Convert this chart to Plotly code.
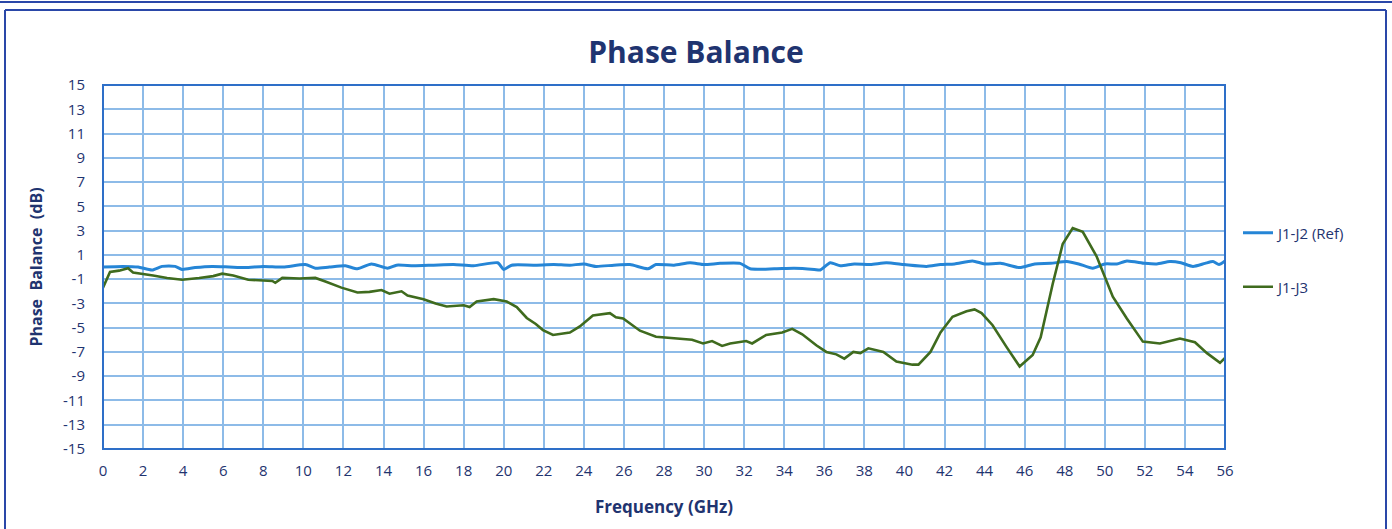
import plotly.graph_objects as go

# ---- data ----
freq_j3 = [0.0, 0.35, 0.8, 1.25, 1.5, 1.75, 2.5, 3.2, 3.95, 4.8, 5.5, 5.95, 6.5, 7.25, 8.0, 8.45, 8.6,
           8.95, 9.8, 10.6, 11.1, 11.9, 12.7, 13.3, 13.9, 14.3, 14.9, 15.2, 16.0, 16.6, 17.15, 18.0,
           18.3, 18.65, 19.5, 20.15, 20.65, 21.15, 21.6, 21.96, 22.46, 23.3, 23.8, 24.45, 25.3, 25.6,
           25.96, 26.8, 27.6, 28.3, 28.8, 29.4, 29.95, 30.4, 30.9, 31.3, 32.1, 32.4, 33.1, 33.9, 34.4,
           34.9, 35.6, 36.1, 36.6, 37.0, 37.45, 37.8, 38.2, 38.95, 39.6, 40.4, 40.7, 41.3, 41.8, 42.4,
           43.1, 43.5, 43.85, 44.4, 45.1, 45.75, 46.4, 46.8, 47.4, 47.9, 48.4, 48.9, 49.6, 50.4, 51.1,
           51.9, 52.75, 53.75, 54.5, 55.1, 55.75, 56.0]
j1_j3 = [-1.7, -0.4, -0.3, -0.1, -0.45, -0.5, -0.7, -0.9, -1.05, -0.9, -0.75, -0.55, -0.7, -1.05, -1.1,
         -1.15, -1.3, -0.9, -0.95, -0.9, -1.2, -1.7, -2.1, -2.05, -1.9, -2.2, -2.0, -2.35, -2.65, -3.0,
         -3.25, -3.15, -3.3, -2.85, -2.65, -2.85, -3.3, -4.2, -4.7, -5.2, -5.6, -5.4, -4.9, -4.0, -3.8,
         -4.15, -4.25, -5.25, -5.75, -5.85, -5.9, -6.0, -6.3, -6.1, -6.5, -6.3, -6.1, -6.3, -5.6, -5.4,
         -5.1, -5.55, -6.45, -7.0, -7.2, -7.55, -7.0, -7.1, -6.7, -7.0, -7.8, -8.05, -8.05, -7.0, -5.4,
         -4.1, -3.65, -3.5, -3.8, -4.8, -6.6, -8.2, -7.25, -5.8, -1.4, 1.9, 3.2, 2.9, 0.85, -2.45, -4.25,
         -6.15, -6.3, -5.9, -6.2, -7.1, -7.9, -7.5]

freq_j2 = [0, 1.0, 1.75, 2.45, 2.95, 3.6, 3.95, 4.6, 5.45, 6.3, 7.1, 8.0, 9.0, 10.1, 10.6, 11.3, 12.1,
           12.7, 13.4, 14.2, 14.65, 15.5, 16.5, 17.5, 18.5, 19.7, 20.0, 20.4, 21.5, 22.5, 23.3, 24.0,
           24.6, 25.5, 26.3, 27.2, 27.6, 28.5, 29.3, 30.0, 30.8, 31.8, 32.3, 33.5, 34.5, 35.5, 35.8,
           36.3, 36.8, 37.5, 38.3, 39.1, 40.0, 41.1, 41.8, 42.5, 43.4, 44.0, 44.8, 45.75, 46.5, 47.3,
           48.1, 48.7, 49.4, 50.0, 50.6, 51.1, 52.0, 52.6, 53.25, 53.8, 54.4, 55.0, 55.4, 55.7, 56.0]
j1_j2 = [0.0, 0.05, 0.0, -0.25, 0.05, 0.05, -0.2, -0.05, 0.05, 0.0, -0.05, 0.05, 0.0, 0.2, -0.1, 0.0,
         0.1, -0.15, 0.25, -0.1, 0.15, 0.1, 0.15, 0.2, 0.1, 0.35, -0.2, 0.15, 0.15, 0.2, 0.15, 0.25,
         0.05, 0.15, 0.2, -0.15, 0.2, 0.15, 0.35, 0.2, 0.3, 0.3, -0.15, -0.15, -0.1, -0.2, -0.25, 0.35,
         0.1, 0.25, 0.2, 0.35, 0.2, 0.05, 0.2, 0.25, 0.5, 0.25, 0.3, -0.05, 0.25, 0.3, 0.45, 0.25,
         -0.1, 0.25, 0.25, 0.5, 0.3, 0.25, 0.45, 0.35, 0.05, 0.3, 0.45, 0.2, 0.5]

y_ticks = list(range(-15, 16, 2))
x_ticks = list(range(0, 57, 2))

NAVY = "#1F3470"
BLUE = "#2585D6"
GREEN = "#3F6B1E"
GRID = "#8DBBE8"
FRAME = "#2A47A8"
FONT = "Open Sans"

fig = go.Figure()
fig.add_trace(go.Scatter(x=freq_j2, y=j1_j2, mode="lines", name="J1-J2 (Ref)", showlegend=True,
                         line=dict(color=BLUE, width=3, shape="spline", smoothing=0.6),
                         legend="legend"))
fig.add_trace(go.Scatter(x=freq_j3, y=j1_j3, mode="lines", name="J1-J3", showlegend=True,
                         line=dict(color=GREEN, width=2.6), legend="legend2"))

# plot area pixel geometry
L, R, T, B = 103, 1225, 85, 449
W, H = 1392, 529
def px(x):
    return (x - L) / (R - L)
def py(y):
    return (B - y) / (B - T)

shapes = [
    dict(type="line", xref="paper", yref="paper", x0=px(5), x1=px(5), y0=py(529), y1=py(10),
         line=dict(color=FRAME, width=2)),
    dict(type="line", xref="paper", yref="paper", x0=px(1386), x1=px(1386), y0=py(529), y1=py(10),
         line=dict(color=FRAME, width=2)),
    dict(type="line", xref="paper", yref="paper", x0=px(5), x1=px(1386), y0=py(10), y1=py(10),
         line=dict(color=FRAME, width=2)),
    dict(type="line", xref="paper", yref="paper", x0=px(0), x1=px(1392), y0=py(2), y1=py(2),
         line=dict(color=FRAME, width=2)),
    dict(type="rect", xref="paper", yref="paper", x0=0, x1=1, y0=0, y1=1,
         line=dict(color="#2E6FC8", width=2)),
]

legend_common = dict(font=dict(family=FONT, size=15, color=NAVY), bgcolor="rgba(0,0,0,0)",
                     xanchor="left", yanchor="middle", itemwidth=30, visible=True)

fig.update_layout(
    width=W, height=H,
    margin=dict(l=L, r=W - R, t=T, b=H - B, autoexpand=False),
    paper_bgcolor="white", plot_bgcolor="white",
    showlegend=True,
    title=dict(text="<b>Phase Balance</b>", x=px(696), xref="paper", xanchor="center",
               y=1 - 52 / H, yanchor="middle",
               font=dict(family=FONT, size=30, color=NAVY)),
    xaxis=dict(range=[0, 56], tickvals=x_ticks, ticktext=[str(v) for v in x_ticks],
               showgrid=True, gridcolor=GRID, gridwidth=1.5, zeroline=False, showline=False,
               ticks="outside", ticklen=8, tickcolor="rgba(0,0,0,0)", automargin=False,
               tickfont=dict(family=FONT, size=15, color=NAVY),
               title=dict(text="<b>Frequency (GHz)</b>", standoff=22,
                          font=dict(family=FONT, size=17, color=NAVY))),
    yaxis=dict(range=[-15, 15], tickvals=y_ticks, ticktext=[str(v) for v in y_ticks],
               showgrid=True, gridcolor=GRID, gridwidth=1.5, zeroline=False, showline=False,
               ticks="outside", ticklen=14, tickcolor="rgba(0,0,0,0)", automargin=False,
               tickfont=dict(family=FONT, size=15, color=NAVY),
               title=dict(text="<b>Phase  Balance  (dB)</b>", standoff=16,
                          font=dict(family=FONT, size=16, color=NAVY))),
    legend=dict(x=px(1238), y=py(233), **legend_common),
    legend2=dict(x=px(1238), y=py(287), **legend_common),
    shapes=shapes,
)

fig.write_html("out.html", config={"displayModeBar": False},
               post_script="document.body.style.margin='0';")
